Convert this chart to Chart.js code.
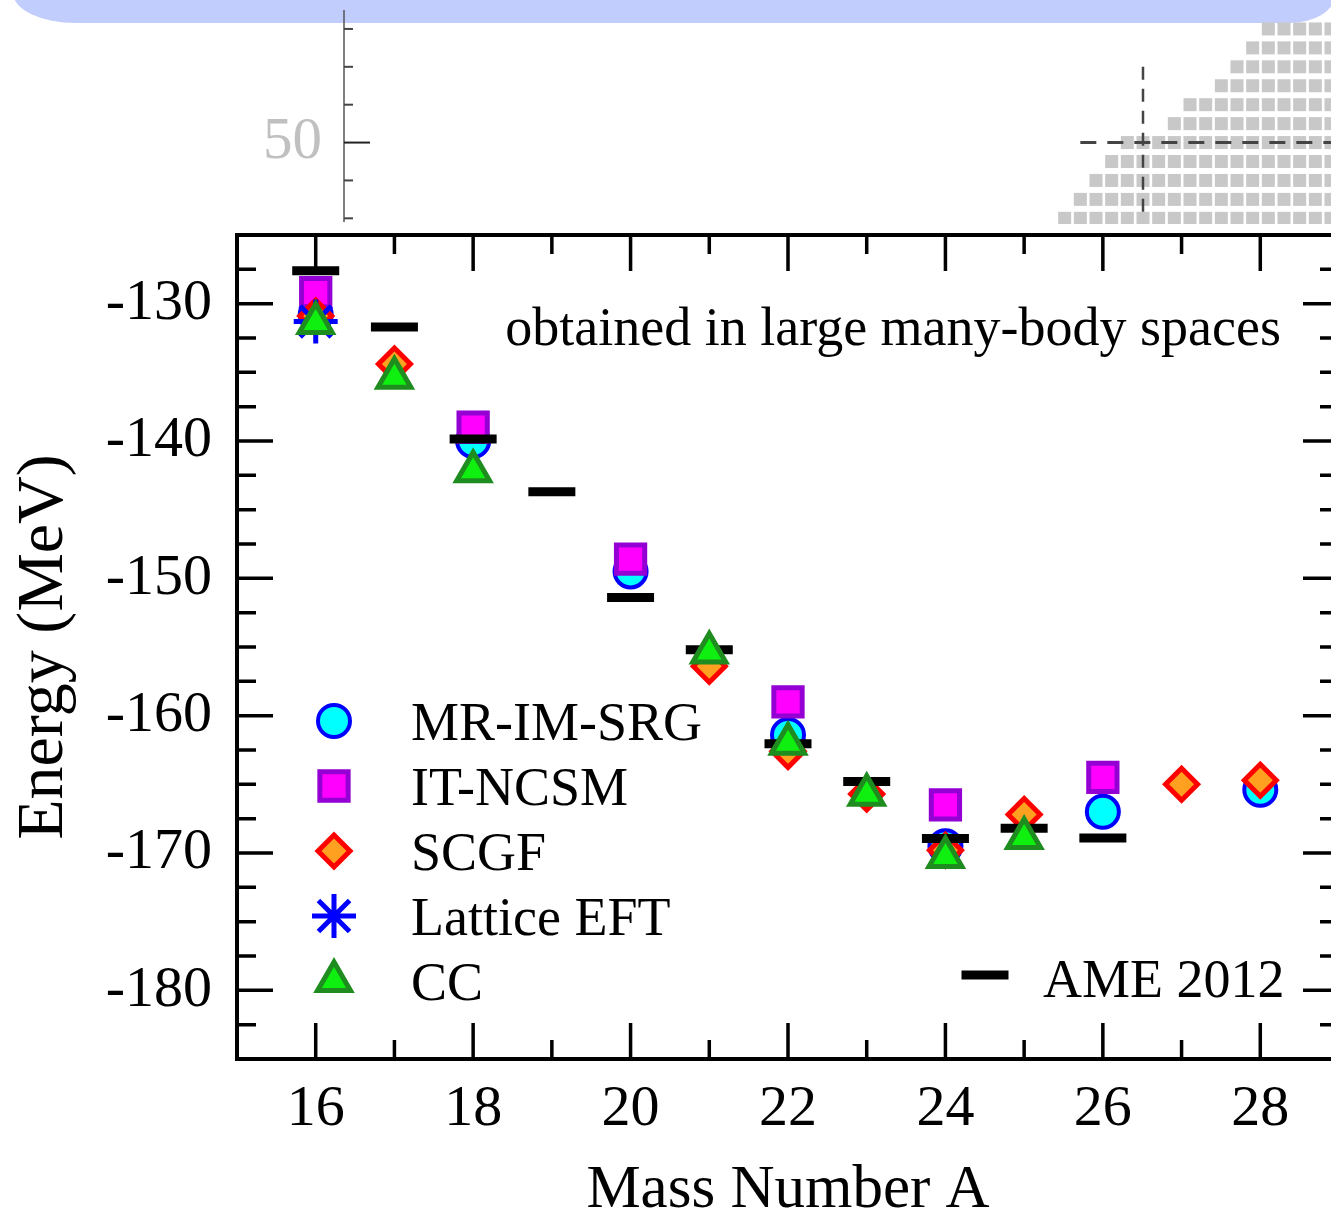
<!DOCTYPE html>
<html>
<head>
<meta charset="utf-8">
<script src="https://cdn.jsdelivr.net/npm/chart.js@4.4.0/dist/chart.umd.min.js"></script>
<style>
  html, body { margin: 0; padding: 0; background: #fff; overflow: hidden; }
  #page { position: relative; width: 1331px; height: 1215px; overflow: hidden; background: #fff; }
  #banner {
    position: absolute; left: 13px; top: -30px; width: 1322px; height: 53px;
    background: #c1cdfd;
    border-bottom-left-radius: 63px 30px;
    border-bottom-right-radius: 45px 28px;
  }
  #chartTop { position: absolute; left: 0; top: 0; }
  #chartMain { position: absolute; left: 0; top: 0; }
</style>
</head>
<body>
<div id="page">
  <div id="banner"></div>
  <canvas id="chartTop" width="1331" height="224"></canvas>
  <canvas id="chartMain" width="1345" height="1240"></canvas>
</div>
<script>
// Oxygen isotopes, ground-state energies (MeV)
const massNumbers = [16, 17, 18, 19, 20, 21, 22, 23, 24, 25, 26, 27, 28];
const mrImSrg   = [-130.8, null, -140.0, null, -149.5, null, -161.4, null, -169.5, null, -167.0, null, -165.4];
const itNcsm    = [-129.2, null, -139.0, null, -148.6, null, -159.0, null, -166.5, null, -164.5, null, null];
const scgf      = [-130.9, -134.4, null, null, null, -156.4, -162.6, -165.7, -169.8, -167.2, null, -165.0, -164.7];
const latticeEft = [-131.3, null, null, null, null, null, null, null, null, null, null, null, null];
const cc        = [-131.4, -135.4, -142.2, null, null, -155.4, -162.05, -165.75, -170.3, -168.9, null, null, null];
const ame2012   = [-127.6, -131.7, -139.85, -143.7, -151.4, -155.2, -162.05, -164.8, -168.95, -168.2, -168.9, null, null];

const xMajor = [16, 18, 20, 22, 24, 26, 28];
const xMinor = [17, 19, 21, 23, 25, 27];
const yMajor = [-180, -170, -160, -150, -140, -130];
const yMinor = [-182.5, -177.5, -175, -172.5, -167.5, -165, -162.5, -157.5, -155, -152.5,
                -147.5, -145, -142.5, -137.5, -135, -132.5, -127.5];

// nuclide chart inset: one row per proton number, first and last neutron number shown
const insetZ      = [46, 47, 48, 49, 50, 51, 52, 53, 54, 55, 56];
const insetFirstN = [77, 78, 79, 80, 81, 84, 85, 87, 88, 89, 90];
const insetLastN  = 94;
const insetTicksZ = [46, 48, 50, 52, 54, 56];
const magicZ = 50, magicZFromN = 78;
const magicN = 82, magicNFromZ = 54, magicNToZ = 46.3;

const serif = '"Liberation Serif", "Times New Roman", serif';

function series(values) {
  return massNumbers.map((a, i) => values[i] == null ? null : { x: a, y: values[i] }).filter(Boolean);
}

// fixed axis box sizes, no extra room for edge labels
function fixBox(size) {
  return s => {
    if (s.isHorizontal()) s.height = size; else s.width = size;
    s.paddingLeft = s.paddingRight = s.paddingTop = s.paddingBottom = 0;
  };
}

// ---------- inset (top) ----------
const insetCells = [];
insetZ.forEach((z, i) => {
  for (let n = insetFirstN[i]; n <= insetLastN; n++) insetCells.push({ x: n, y: z });
});

const insetAxis = {
  id: 'insetAxis',
  afterDraw(chart) {
    const { ctx, chartArea: a, scales: { y } } = chart;
    ctx.save();
    ctx.strokeStyle = '#555';
    ctx.lineWidth = 1.5;
    ctx.beginPath();
    ctx.moveTo(a.left, a.top);
    ctx.lineTo(a.left, a.bottom - 2);
    ctx.stroke();
    insetTicksZ.forEach(z => {
      const py = y.getPixelForValue(z);
      const major = z % 10 === 0;
      ctx.strokeStyle = major ? '#222' : '#444';
      ctx.lineWidth = 2;
      ctx.beginPath();
      ctx.moveTo(a.left, py);
      ctx.lineTo(a.left + (major ? 26 : 9), py);
      ctx.stroke();
    });
    ctx.restore();
  }
};

new Chart(document.getElementById('chartTop').getContext('2d'), {
  type: 'scatter',
  data: {
    datasets: [
      {
        type: 'line',
        data: [{ x: magicZFromN, y: magicZ }, { x: insetLastN, y: magicZ }],
        borderColor: '#444', borderWidth: 3, borderDash: [16, 11],
        pointRadius: 0, fill: false, order: 0
      },
      {
        type: 'line',
        data: [{ x: magicN, y: magicNFromZ }, { x: magicN, y: magicNToZ }],
        borderColor: '#444', borderWidth: 2.5, borderDash: [13, 9],
        pointRadius: 0, fill: false, order: 0
      },
      {
        data: insetCells,
        pointStyle: 'rect', pointRadius: 9.2, pointBorderWidth: 0,
        pointBackgroundColor: '#c8c8c8', order: 1
      }
    ]
  },
  options: {
    responsive: false, animation: false, events: [],
    layout: { autoPadding: false, padding: { top: 10, right: 0, bottom: 0, left: 0 } },
    plugins: { legend: { display: false }, tooltip: { enabled: false } },
    scales: {
      x: { type: 'linear', display: false, min: 31, max: 94 },
      y: {
        type: 'linear', min: 45.7, max: 57,
        afterBuildTicks: s => { s.ticks = [{ value: magicZ }]; },
        afterFit: fixBox(344),
        grid: { display: false, drawTicks: false },
        border: { display: false },
        ticks: { padding: 22, color: '#c0c0c0', font: { family: serif, size: 59 } }
      }
    }
  },
  plugins: [insetAxis]
});

// ---------- main chart ----------
const frameTicks = {
  id: 'frameTicks',
  beforeDatasetsDraw(chart) {
    const { ctx, chartArea: a, scales: { x, y } } = chart;
    ctx.save();
    ctx.strokeStyle = '#000';
    ctx.lineWidth = 4;
    ctx.strokeRect(a.left, a.top, a.right - a.left, a.bottom - a.top);
    ctx.lineWidth = 3.5;
    ctx.beginPath();
    xMajor.map(v => [v, 36]).concat(xMinor.map(v => [v, 19])).forEach(([v, len]) => {
      const px = x.getPixelForValue(v);
      ctx.moveTo(px, a.bottom); ctx.lineTo(px, a.bottom - len);
      ctx.moveTo(px, a.top); ctx.lineTo(px, a.top + len);
    });
    yMajor.map(v => [v, 36]).concat(yMinor.map(v => [v, 19])).forEach(([v, len]) => {
      const py = y.getPixelForValue(v);
      ctx.moveTo(a.left, py); ctx.lineTo(a.left + len, py);
      ctx.moveTo(a.right, py); ctx.lineTo(a.right - len, py);
    });
    ctx.stroke();
    ctx.restore();
  }
};

function drawMarker(ctx, ds, px, py) {
  ctx.save();
  ctx.fillStyle = ds.pointBackgroundColor || ds.pointBorderColor;
  ctx.strokeStyle = ds.pointBorderColor;
  ctx.lineWidth = ds.pointBorderWidth;
  Chart.helpers.drawPoint(ctx, {
    pointStyle: ds.pointStyle, radius: ds.pointRadius, rotation: 0, borderWidth: ds.pointBorderWidth
  }, px, py);
  ctx.restore();
}

const legendBox = {
  id: 'legendBox',
  afterDatasetsDraw(chart) {
    const { ctx, chartArea: a } = chart;
    const sets = chart.data.datasets;
    ctx.save();
    ctx.fillStyle = '#000';
    ctx.font = '54px ' + serif;
    ctx.textBaseline = 'alphabetic';
    ctx.textAlign = 'right';
    ctx.fillText('obtained in large many-body spaces', a.left + 1044, a.top + 110);
    ctx.textAlign = 'left';
    const entries = sets.filter(d => d.label !== 'AME 2012');
    entries.forEach((ds, k) => {
      const my = a.top + 486 + 65 * k;
      drawMarker(ctx, ds, a.left + 97, my);
      ctx.fillStyle = '#000';
      ctx.fillText(ds.label, a.left + 174, my + 19);
    });
    const ame = sets.find(d => d.label === 'AME 2012');
    drawMarker(ctx, ame, a.left + 748, a.top + 740);
    ctx.fillStyle = '#000';
    ctx.fillText(ame.label, a.left + 806, a.top + 762);
    ctx.restore();
  }
};

new Chart(document.getElementById('chartMain').getContext('2d'), {
  type: 'scatter',
  data: {
    datasets: [
      {
        label: 'MR-IM-SRG', data: series(mrImSrg), order: 5,
        pointStyle: 'circle', pointRadius: 16, pointBorderWidth: 4,
        pointBackgroundColor: '#00ffff', pointBorderColor: '#0000ff'
      },
      {
        label: 'IT-NCSM', data: series(itNcsm), order: 4,
        pointStyle: 'rect', pointRadius: 20, pointBorderWidth: 5,
        pointBackgroundColor: '#ff00ff', pointBorderColor: '#9400d3'
      },
      {
        label: 'SCGF', data: series(scgf), order: 3,
        pointStyle: 'rectRot', pointRadius: 16, pointBorderWidth: 5,
        pointBackgroundColor: '#ffa020', pointBorderColor: '#ff0000'
      },
      {
        label: 'Lattice EFT', data: series(latticeEft), order: 2,
        pointStyle: 'star', pointRadius: 22, pointBorderWidth: 5,
        pointBackgroundColor: '#0000ff', pointBorderColor: '#0000ff'
      },
      {
        label: 'CC', data: series(cc), order: 0,
        pointStyle: 'triangle', pointRadius: 19, pointBorderWidth: 5,
        pointBackgroundColor: '#10f010', pointBorderColor: '#1e8c1e'
      },
      {
        label: 'AME 2012', data: series(ame2012), order: 1,
        pointStyle: 'line', pointRadius: 23.5, pointBorderWidth: 9,
        pointBackgroundColor: '#000', pointBorderColor: '#000'
      }
    ]
  },
  options: {
    responsive: false, animation: false, events: [],
    layout: { autoPadding: false, padding: { top: 235, right: 6, bottom: 0, left: 0 } },
    plugins: { legend: { display: false }, tooltip: { enabled: false } },
    scales: {
      x: {
        type: 'linear', min: 15, max: 29,
        afterBuildTicks: s => { s.ticks = xMajor.map(v => ({ value: v })); },
        afterFit: fixBox(181),
        grid: { display: false, drawTicks: false },
        border: { display: false },
        ticks: { padding: 16, color: '#000', font: { family: serif, size: 58 } },
        title: {
          display: true, text: 'Mass Number A', color: '#000',
          font: { family: serif, size: 61 }, padding: { top: 0, bottom: 12 }
        }
      },
      y: {
        type: 'linear', min: -185, max: -125,
        afterBuildTicks: s => { s.ticks = yMajor.map(v => ({ value: v })); },
        afterFit: fixBox(237),
        grid: { display: false, drawTicks: false },
        border: { display: false },
        ticks: { padding: 25, color: '#000', font: { family: serif, size: 58 } },
        title: {
          display: true, text: 'Energy (MeV)', color: '#000',
          font: { family: serif, size: 66 }, padding: { top: 5, bottom: 0 }
        }
      }
    }
  },
  plugins: [frameTicks, legendBox]
});
</script>
</body>
</html>
